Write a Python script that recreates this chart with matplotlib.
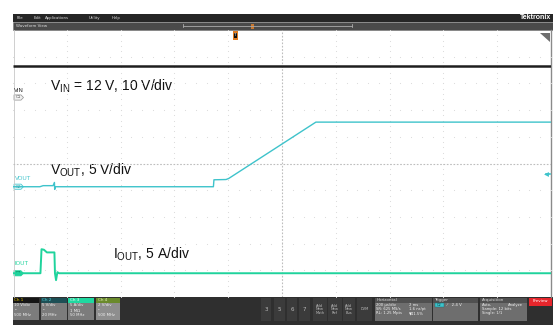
import matplotlib.pyplot as plt
from matplotlib.patches import Rectangle, Polygon

plt.rcParams['font.family'] = ['Liberation Sans', 'DejaVu Sans']
plt.rcParams['mathtext.fontset'] = 'custom'
plt.rcParams['mathtext.rm'] = 'Liberation Sans'

# horizontal: 200 us/div, 10 div, trigger at 41.5 %
t_div = 200
t_start = -830
t_end = 1170

# Ch1 - VIN, 10 V/div
vin_t = [-830, 1170]
vin_v = [12.0, 12.0]
vin_scale, vin_pos = 10, 7.47

# Ch2 - VOUT, 5 V/div
vout_t = [-830, -730, -718, -681, -676, -675, -673, -85, -83, -38, -28, 296, 1170]
vout_v = [0, 0, 0.2, 0.2, 0.8, -0.5, 0, 0, 1.3, 1.35, 1.55, 12.1, 12.1]
vout_scale, vout_pos = 5, 4.13
trig_level = 2.4

# Ch3 - IOUT, 5 A/div
iout_t = [-830, -728, -724, -715, -704, -676, -674, -670, -665, -659, 1170]
iout_a = [0, 0, 4.5, 4.4, 3.9, 3.9, 0, -1.3, 0.2, 0, 0]
iout_scale, iout_pos = 5, 0.89

c_vin = '#1e1e1e'
c_vout = '#3ec3cb'
c_iout = '#1fd39c'

fig = plt.figure(figsize=(5.53, 3.25), dpi=100)

# screen chrome in pixel coordinates
ui = fig.add_axes([0, 0, 1, 1])
ui.set_xlim(0, 553)
ui.set_ylim(325, 0)
ui.axis('off')

# menu bar
ui.add_patch(Rectangle((13, 13.5), 540, 8.5, fc='#262626', lw=0))
for x, s in [(17, 'File'), (33.5, 'Edit'), (45, 'Applications'), (89, 'Utility'), (112, 'Help')]:
    ui.text(x, 17.8, s, fontsize=2.8, color='#dddddd', va='center', family='DejaVu Sans')
ui.text(551, 17.6, 'Tektronix', fontsize=5, color='white', weight='bold', ha='right', va='center')

# waveform view bar
ui.add_patch(Rectangle((13, 22), 540, 8, fc='#4a4a4a', ec='#777777', lw=0.4))
ui.text(16, 26, 'Waveform View', fontsize=2.9, color='#dddddd', va='center', family='DejaVu Sans')
ui.plot([183, 352], [25.8, 25.8], color='#aaaaaa', lw=0.6)
ui.plot([183, 183], [24.3, 27.3], color='#aaaaaa', lw=0.6)
ui.plot([352, 352], [24.3, 27.3], color='#aaaaaa', lw=0.6)
ui.add_patch(Rectangle((250.5, 23.5), 3.5, 5, fc='#c87830', lw=0))

# borders of the graticule
ui.plot([13.5, 13.5], [30, 297], color='#c8c8c8', lw=0.6)
ui.plot([551, 551], [30, 297], color='#8a8a8a', lw=1.0)

# trigger position marker
ui.add_patch(Rectangle((232.5, 30.5), 5, 9, fc='#e07b20', lw=0))
ui.add_patch(Rectangle((233.5, 32.5), 3, 5.5, fc='#111111', lw=0))
ui.text(235, 35.3, 'T', fontsize=3, color='white', ha='center', va='center')

# corner icon
ui.add_patch(Polygon([(540, 33), (550, 33), (550, 42)], fc='#6e6e6e', lw=0))

# channel tags at left edge
for y, lab, fc, ec, tc in [(97.5, 'C1', '#f0f0f0', '#909090', '#555555'),
                           (186.7, 'C2', '#d8f4f6', c_vout, '#2a8a90'),
                           (273.3, 'C3', c_iout, c_iout, '#0a4a30')]:
    ui.add_patch(Polygon([(14, y - 2.6), (21, y - 2.6), (23.5, y), (21, y + 2.6), (14, y + 2.6)],
                         fc=fc, ec=ec, lw=0.5))
    ui.text(18, y, lab, fontsize=3, color=tc, ha='center', va='center')

ui.text(14, 90.5, 'VIN', fontsize=4.2, color='#222222', va='center')
ui.text(14.5, 178.7, 'VOUT', fontsize=4.2, color=c_vout, va='center')
ui.text(14.5, 263.5, 'IOUT', fontsize=4.2, color=c_iout, va='center')

# annotations
ui.text(50, 86.7, r'V$_{\rm IN}$ = 12 V, 10 V/div', fontsize=10, color='#111111', va='center')
ui.text(50, 170.7, r'V$_{\rm OUT}$, 5 V/div', fontsize=10, color='#111111', va='center')
ui.text(113, 254, r'I$_{\rm OUT}$, 5 A/div', fontsize=10, color='#111111', va='center')

# bottom control panel
ui.add_patch(Rectangle((13, 297), 540, 28, fc='#2f2f2f', lw=0))
chans = [
    (13, 26, '#161616', '#e6c800', '#7c7c7c', ['10 V/div', 'ᴿ', '500 MHz']),
    (41, 26, '#1d4f55', '#52d2da', '#7c7c7c', ['5 V/div', 'ᴿ', '20 MHz']),
    (68, 26, '#20d8a0', '#f4fff8', '#7c7c7c', ['5 A/div', '1 MΩ', '50 MHz']),
    (96, 24, '#6a8a2c', '#e8f4c0', '#8e8e8e', ['2 V/div', 'ᴿ', '500 MHz']),
]
for i, (x0, w, hc, htc, bc, lines) in enumerate(chans):
    ui.add_patch(Rectangle((x0, 297.5), w, 5.5, fc=hc, lw=0))
    ui.add_patch(Rectangle((x0, 303), w, 17, fc=bc, lw=0))
    ui.text(x0 + 1.5, 300.3, 'Ch %d' % (i + 1), fontsize=3, color=htc, va='center', family='DejaVu Sans')
    for k, s in enumerate(lines):
        ui.text(x0 + 1.5, 305.5 + 5 * k, s, fontsize=2.8, color='#f0f0f0', va='center', family='DejaVu Sans')

buttons = [(261, 10, '#e0405a', '3'), (274, 11, '#e08020', '5'), (287, 10, '#e08020', '6'),
           (299, 11, '#d040a0', '7'), (313, 14, '#e08020', 'Add\nNew\nMath'),
           (328, 14, '#c0c0c0', 'Add\nNew\nRef'), (343, 12, '#a060d0', 'Add\nNew\nBus'),
           (357, 15, None, 'DVM')]
for x0, w, tc, lab in buttons:
    ui.add_patch(Rectangle((x0, 297.5), w, 23, fc='#3b3b3b', lw=0))
    if tc:
        ui.add_patch(Rectangle((x0 + 1, 298.5), w - 2, 0.9, fc=tc, lw=0))
    fs = 4 if len(lab) == 1 else 2.6
    ui.text(x0 + w / 2, 309.5, lab, fontsize=fs, color='#bbbbbb', ha='center', va='center',
            linespacing=0.9, family='DejaVu Sans')

panels = [
    (375, 57, 'Horizontal', [('200 µs/div', '2 ms'), ('SR: 625 MS/s', '1.6 ns/pt'), ('RL: 1.25 Mpts', '▼41.5%')]),
    (433, 45, 'Trigger', []),
    (480, 47, 'Acquisition', [('Auto,', 'Analyze'), ('Sample: 12 bits', ''), ('Single: 1/1', '')]),
]
for x0, w, head, rows in panels:
    ui.add_patch(Rectangle((x0, 297.5), w, 5, fc='#505050', lw=0))
    ui.add_patch(Rectangle((x0, 302.5), w, 18, fc='#6e6e6e', lw=0))
    ui.text(x0 + 1.5, 300, head, fontsize=2.9, color='#dddddd', va='center', family='DejaVu Sans')
    for k, (a, b) in enumerate(rows):
        ui.text(x0 + 1.5, 305 + 4.2 * k, a, fontsize=2.7, color='#f2f2f2', va='center', family='DejaVu Sans')
        ui.text(x0 + w * 0.6, 305 + 4.2 * k, b, fontsize=2.7, color='#f2f2f2', va='center', family='DejaVu Sans')
ui.add_patch(Rectangle((435, 303.3), 8.5, 3.6, fc=c_vout, ec='#1a6a70', lw=0.3))
ui.text(439.2, 305.1, 'C2', fontsize=2.5, color='#0a3a40', ha='center', va='center', family='DejaVu Sans')
ui.text(447, 305.1, '⁄    %.1f V' % trig_level, fontsize=2.8, color='#f2f2f2', va='center', family='DejaVu Sans')

ui.add_patch(Rectangle((529, 297.5), 23, 8, fc='#e6262c', lw=0))
ui.text(540.5, 301.5, 'Preview', fontsize=2.9, color='white', ha='center', va='center', family='DejaVu Sans')

# waveform graticule: 10 x 10 divisions
ax = fig.add_axes([13 / 553, (325 - 297) / 325, (551 - 13) / 553, (297 - 30) / 325])
ax.set_zorder(2)
ax.patch.set_alpha(0)
ax.set_xlim(t_start, t_end)
ax.set_ylim(0, 10)
ax.axis('off')

for k in range(1, 10):
    if k == 5:
        continue
    xs = t_start + k * t_div
    ax.plot([xs] * 51, [j / 5 for j in range(51)], ls='none', marker='o', ms=0.8, mew=0, color='#dadada')
    ax.plot([t_start + j * t_div / 5 for j in range(51)], [k] * 51, ls='none', marker='o', ms=0.8, mew=0,
            color='#dadada')
ax.plot([t_start + 5 * t_div] * 2, [0, 10], color='#bdbdbd', lw=0.8, ls=(0, (1.5, 1.5)))
ax.plot([t_start, t_end], [5, 5], color='#bdbdbd', lw=0.8, ls=(0, (1.5, 1.5)))

# traces
ax.plot(vin_t, [vin_pos + v / vin_scale for v in vin_v], color=c_vin, lw=1.8, solid_capstyle='butt')
ax.plot(vout_t, [vout_pos + v / vout_scale for v in vout_v], color=c_vout, lw=1.0)
ax.plot(iout_t, [iout_pos + a / iout_scale for a in iout_a], color=c_iout, lw=1.4)

# trigger level indicator
yt = vout_pos + trig_level / vout_scale
ax.plot([1150, 1168], [yt, yt], color=c_vout, lw=1.2)
ax.plot([1150], [yt], marker='<', ms=3.5, mew=0, color=c_vout)

fig.savefig('out.png', dpi=100, facecolor='white')
